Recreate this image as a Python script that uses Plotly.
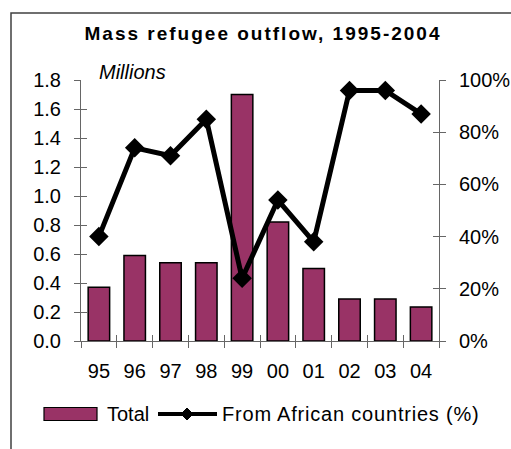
import plotly.graph_objects as go

years = ["95", "96", "97", "98", "99", "00", "01", "02", "03", "04"]
total_millions = [0.37, 0.59, 0.54, 0.54, 1.70, 0.82, 0.50, 0.29, 0.29, 0.235]
african_share = [0.40, 0.74, 0.71, 0.85, 0.24, 0.54, 0.38, 0.96, 0.96, 0.87]
series_names = ["Total", "From African countries (%)"]

FONT = "Liberation Sans, Arial, sans-serif"
AX = "#666666"
BAR = "#993366"
FS = 20
W, H = 511, 449
L, R, T, B = 81, 72, 80, 108
pw, ph = W - L - R, H - T - B


def px(x):
    return (x - L) / pw


def py(y):
    return (H - B - y) / ph


fig = go.Figure()
fig.add_trace(go.Bar(
    x=years, y=total_millions, name=series_names[0], width=0.6,
    marker=dict(color=BAR, line=dict(color="black", width=1.5)),
    xaxis="x", yaxis="y"))
fig.add_trace(go.Scatter(
    x=years, y=african_share, name=series_names[1],
    mode="lines+markers", line=dict(color="black", width=5),
    marker=dict(symbol="diamond", size=15, color="black"),
    xaxis="x", yaxis="y2"))

common = dict(showgrid=False, zeroline=False, showline=True, linecolor=AX,
              linewidth=1, tickcolor=AX, ticklen=6, tickwidth=1,
              tickfont=dict(family=FONT, size=FS, color="black"))
inside = dict(ticks="inside", showticklabels=False, showgrid=False,
              zeroline=False, showline=False, tickcolor=AX, ticklen=6, tickwidth=1)

# custom legend (wide bar swatch, line+diamond swatch)
ly = 414
shapes = [
    dict(type="rect", xref="paper", yref="paper",
         x0=px(11), x1=px(530), y0=py(470), y1=py(13),
         line=dict(color="#404040", width=1.5), fillcolor="rgba(0,0,0,0)", layer="below"),
    dict(type="rect", xref="paper", yref="paper",
         x0=px(44), x1=px(97), y0=py(ly + 6.5), y1=py(ly - 6.5),
         line=dict(color="black", width=1.2), fillcolor=BAR),
    dict(type="line", xref="paper", yref="paper",
         x0=px(158), x1=px(217), y0=py(ly), y1=py(ly),
         line=dict(color="black", width=4)),
    dict(type="path", xref="paper", yref="paper",
         path=f"M {px(187-6)},{py(ly)} L {px(187)},{py(ly-6)} L {px(187+6)},{py(ly)} "
              f"L {px(187)},{py(ly+6)} Z",
         line=dict(color="black", width=1), fillcolor="black"),
]
annotations = [
    dict(text="<i>Millions</i>", xref="paper", yref="paper",
         x=px(97), y=py(72), xanchor="left", yanchor="middle", showarrow=False,
         font=dict(family=FONT, size=FS, color="black")),
    dict(text=series_names[0], xref="paper", yref="paper",
         x=px(105), y=py(ly), xanchor="left", yanchor="middle", showarrow=False,
         font=dict(family=FONT, size=FS, color="black")),
    dict(text=f'<span style="letter-spacing:0.8px">{series_names[1]}</span>',
         xref="paper", yref="paper",
         x=px(220), y=py(ly), xanchor="left", yanchor="middle", showarrow=False,
         font=dict(family=FONT, size=FS, color="black")),
]

fig.update_layout(
    width=W, height=H,
    margin=dict(l=L, r=R, t=T, b=B, pad=0, autoexpand=False),
    paper_bgcolor="white", plot_bgcolor="white",
    font=dict(family=FONT, size=FS, color="black"),
    showlegend=False,
    title=dict(text='<span style="letter-spacing:2px">Mass refugee outflow, 1995-2004</span>',
               x=263 / W, xanchor="center", y=1 - 33 / H, yanchor="middle",
               font=dict(family=FONT, size=19, color="black", weight="bold")),
    xaxis=dict(type="category", range=[-0.5, 9.5], ticks="outside",
               tickson="boundaries", ticklabelstandoff=12, anchor="y", **common),
    xaxis2=dict(type="linear", range=[-0.5, 9.5], tick0=-0.5, dtick=1,
                overlaying="x", anchor="y", **inside),
    yaxis=dict(range=[0, 1.8], dtick=0.2, tick0=0, tickformat=".1f",
               ticks="outside", ticklabelstandoff=9, anchor="x", **common),
    yaxis2=dict(range=[0, 1], dtick=0.2, tick0=0, tickformat=".0%",
                overlaying="y", side="right", ticks="outside",
                ticklabelstandoff=9, anchor="x", **common),
    yaxis3=dict(range=[0, 1.8], dtick=0.2, tick0=0, overlaying="y", side="left",
                anchor="x", **inside),
    yaxis4=dict(range=[0, 1], dtick=0.2, tick0=0, overlaying="y", side="right",
                anchor="x", **inside),
    annotations=annotations,
    shapes=shapes,
)

# empty traces so overlay tick axes are rendered
fig.add_trace(go.Scatter(x=[], y=[], xaxis="x2", yaxis="y3", showlegend=False, hoverinfo="skip"))
fig.add_trace(go.Scatter(x=[], y=[], xaxis="x", yaxis="y4", showlegend=False, hoverinfo="skip"))

fig.write_html("out.html")
